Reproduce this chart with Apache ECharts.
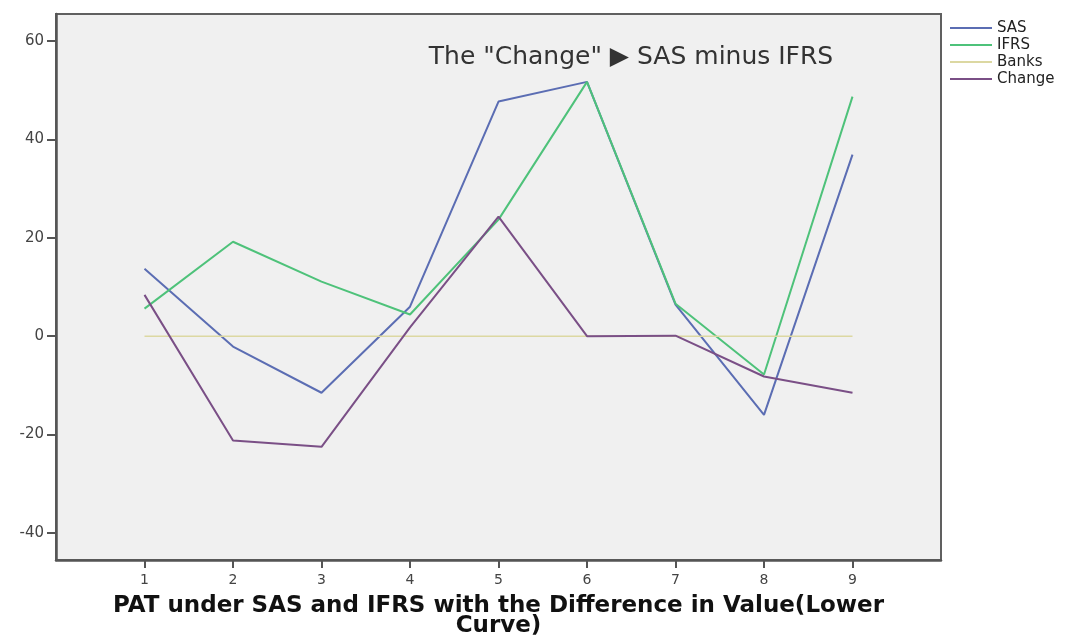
<!DOCTYPE html>
<html>
<head>
<meta charset="utf-8">
<script src="https://cdn.jsdelivr.net/npm/echarts@6/dist/echarts.min.js"></script>
<style>
  html, body { margin: 0; padding: 0; background: #ffffff; }
  #chart { width: 1067px; height: 637px; }
</style>
</head>
<body>
<div id="chart"></div>
<script>
// values
var banksNo = [1, 2, 3, 4, 5, 6, 7, 8, 9];
var sas = [13.7, -2.1, -11.5, 6.0, 47.7, 51.7, 6.4, -16.0, 36.9];
var ifrs = [5.6, 19.2, 11.1, 4.4, 23.7, 51.7, 6.6, -7.8, 48.7];
var banks = [0, 0, 0, 0, 0, 0, 0, 0, 0];
var change = [8.4, -21.2, -22.5, 1.8, 24.3, 0, 0.1, -8.2, -11.5];
var yTicks = [-40, -20, 0, 20, 40, 60];

var seriesNames = ["SAS", "IFRS", "Banks", "Change"];
var seriesColors = ["#5b6db3", "#4ec27a", "#dcd8a2", "#7a4f86"];
var seriesValues = [sas, ifrs, banks, change];

function pairs(vals) {
    var out = [];
    for (let i = 0; i < banksNo.length; i++) {
        out.push([banksNo[i], vals[i]]);
    }
    return out;
}

var chart = echarts.init(document.getElementById("chart"));

var series = [];
for (let i = 0; i < seriesNames.length; i++) {
    series.push({
        name: seriesNames[i],
        type: "line",
        symbol: "none",
        data: pairs(seriesValues[i]),
        color: seriesColors[i],
        lineStyle: { color: seriesColors[i], width: i === 2 ? 1.5 : 2 },
        animation: false
    });
}

var option = {
    backgroundColor: "#ffffff",
    textStyle: { fontFamily: "DejaVu Sans" },
    title: {
        text: 'The "Change" \u25B6 SAS minus IFRS',
        left: 626,
        top: 40,
        textAlign: "center",
        textStyle: { fontFamily: "DejaVu Sans", fontSize: 25, fontWeight: "normal", color: "#333333" }
    },
    legend: {
        orient: "vertical",
        left: 945,
        top: 15,
        icon: "rect",
        itemWidth: 42,
        itemHeight: 2,
        itemGap: 1,
        data: seriesNames,
        textStyle: { fontFamily: "DejaVu Sans", fontSize: 15, color: "#222222", lineHeight: 16 }
    },
    grid: {
        left: 56,
        right: 126,
        top: 14,
        bottom: 77,
        outerBoundsMode: "none",
        show: true,
        backgroundColor: "#f0f0f0",
        borderColor: "#606060",
        borderWidth: 2
    },
    xAxis: {
        type: "value",
        min: 0,
        max: 10,
        name: "PAT under SAS and IFRS with the Difference in Value(Lower\nCurve)",
        nameLocation: "middle",
        nameGap: 36,
        nameTextStyle: { fontFamily: "DejaVu Sans", fontSize: 23, fontWeight: "bold", color: "#111111", lineHeight: 20 },
        axisLine: { onZero: false, lineStyle: { color: "#555555", width: 2.5 } },
        axisTick: { customValues: banksNo, length: 8, lineStyle: { color: "#555555", width: 2 } },
        axisLabel: { customValues: banksNo, fontSize: 14, color: "#444444", margin: 13 },
        splitLine: { show: false }
    },
    yAxis: {
        type: "value",
        min: -45.5,
        max: 65.5,
        axisLine: { onZero: false, lineStyle: { color: "#555555", width: 2.5 } },
        axisTick: { customValues: yTicks, length: 9, lineStyle: { color: "#555555", width: 2 } },
        axisLabel: { customValues: yTicks, fontSize: 15, color: "#444444", margin: 12 },
        splitLine: { show: false }
    },
    series: series
};
option && chart.setOption(option);
</script>
</body>
</html>
